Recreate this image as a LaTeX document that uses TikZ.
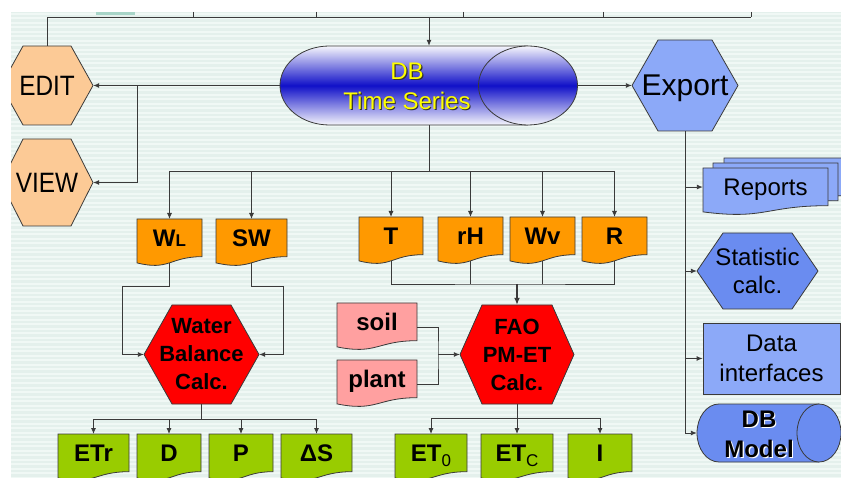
\documentclass[tikz,border=0pt]{standalone}
\usepackage{fontspec}
\setmainfont{Liberation Sans}
\usetikzlibrary{arrows.meta,calc}
\definecolor{bgc}{HTML}{E4F0EC}
\definecolor{stripec}{HTML}{F0F8F5}
\definecolor{linec}{HTML}{3A3A3A}
\definecolor{peach}{HTML}{FCCA96}
\definecolor{lblue}{HTML}{8CA9F8}
\definecolor{mblue}{HTML}{6A8CF0}
\definecolor{orng}{HTML}{FF9900}
\definecolor{pinkc}{HTML}{FFA0A0}
\definecolor{grn}{HTML}{99CC00}
\definecolor{dbblue}{HTML}{1010C8}
\definecolor{dbwhite}{HTML}{F6F6FC}
\definecolor{topteal}{HTML}{A8D5C8}
\definecolor{yel}{HTML}{FFFF00}
\tikzset{
  outl/.style={draw=linec, line width=0.8pt},
  conn/.style={draw=linec, line width=0.9pt},
  arr/.style={conn, -{Latex[length=6pt,width=5pt]}},
  lbl/.style={inner sep=0pt, align=center, text=black},
  doclbl/.style={lbl, font=\bfseries\fontsize{24}{28}\selectfont, text height=17pt, text depth=0pt},
}
% hexagon: name, fill, cx, cy, halfw, halfh, inset, font, text
\newcommand{\hexa}[9]{%
  \draw[outl,fill=#2] ({#3-#5},#4) -- ({#3-#5+#7},{#4-#6}) -- ({#3+#5-#7},{#4-#6}) -- ({#3+#5},#4) -- ({#3+#5-#7},{#4+#6}) -- ({#3-#5+#7},{#4+#6}) -- cycle;
  \node[lbl, font=#8, minimum width={2*#5pt}, minimum height={2*#6pt}] (#1) at (#3,#4) {#9};
}
% document outline: fill, x1, y1, x2, h
\newcommand{\docpath}[5]{%
  \draw[outl,fill=#1] (#2,#3) -- (#4,#3) -- (#4,{#3+0.802*#5}) .. controls ({(#2+#4)/2},{#3+0.802*#5}) and ({(#2+#4)/2},{#3+1.107*#5}) .. (#2,{#3+0.934*#5}) -- cycle;
}
% document node: name, fill, x1, y1, x2, h, text
\newcommand{\docu}[7]{%
  \docpath{#2}{#3}{#4}{#5}{#6}
  \node[doclbl, minimum width={(#5-#3)*1pt}, minimum height={0.802*#6*1pt}, anchor=north] (#1) at ({(#3+#5)/2},#4) {#7};
  \coordinate (#1-b) at ({(#3+#5)/2},{#4+0.933*#6});
}
\begin{document}
\begin{tikzpicture}[x=1pt,y=-1pt]
\useasboundingbox (0,0) rectangle (841,478);
\fill[white] (0,0) rectangle (841,478);
\begin{scope}
\clip (11,12) rectangle (841,478);
\fill[bgc] (11,12) rectangle (841,478);
\foreach \yy in {14,18.5,...,478} \draw[stripec,line width=2pt] (11,\yy) -- (841,\yy);
\fill[topteal] (96,12) rectangle (135,15);

% ---- DB Time Series cylinder
\shade[top color=dbwhite, bottom color=dbwhite, middle color=dbblue]
  (329.5,46) -- (528,46) -- (528,125) -- (329.5,125)
  arc[start angle=270,end angle=90,x radius=49.5pt,y radius=39.5pt] -- cycle;
\draw[outl] (528,46) -- (329.5,46) arc[start angle=90,end angle=270,x radius=49.5pt,y radius=39.5pt] -- (528,125);
\shade[top color=dbwhite, bottom color=dbwhite, middle color=dbblue] (528,85.5) ellipse[x radius=49.5pt,y radius=39.5pt];
\draw[outl] (528,85.5) ellipse[x radius=49.5pt,y radius=39.5pt];
\node[inner sep=0pt, minimum width=298pt, minimum height=79pt] (dbts) at (429,85.5) {};
\node[lbl, text=black!80, font=\fontsize{24}{30}\selectfont] (dbtsshadow) at (408.2,87.2) {DB\\Time Series};
\node[lbl, text=yel, font=\fontsize{24}{30}\selectfont] (dbtstext) at (407,86) {DB\\Time Series};

% ---- left hexagons and Export
\hexa{edit}{peach}{47}{85.5}{46}{39.5}{22}{\fontsize{28}{30}\selectfont}{\scalebox{0.87}[1]{EDIT}}
\hexa{view}{peach}{47}{182.5}{46}{43.5}{22}{\fontsize{28}{30}\selectfont}{\scalebox{0.87}[1]{VIEW}}
\hexa{export}{lblue}{685}{85.5}{53}{45.5}{26}{\fontsize{30}{32}\selectfont}{\raisebox{0pt}[\height][0pt]{Export}}

% ---- top connections
\coordinate (topL) at (47,17);
\coordinate (topR) at (751,17);
\coordinate (topJ) at (429,17);
\draw[conn] (edit.north) -- (topL) -- (topR);
\foreach \xx in {193,316,463,603,751} \draw[conn] (\xx,12) -- (\xx,17);
\draw[arr] (topJ) -- (dbts.north);

% ---- DB to EDIT / VIEW / Export
\coordinate (vj) at (137,85.5);
\draw[arr] (dbts.west) -- (edit.east);
\draw[arr] (vj) |- (view.east);
\draw[arr] (dbts.east) -- (export.west);

% ---- orange documents
\docu{wl}{orng}{137}{219}{202}{47}{W{\fontsize{17}{17}\selectfont L}}
\docu{sw}{orng}{216}{219}{287}{47}{SW}
\docu{t}{orng}{359}{217}{423}{47}{T}
\docu{rh}{orng}{438}{217}{503}{47}{rH}
\docu{wv}{orng}{510}{217}{575}{47}{Wv}
\docu{r}{orng}{582}{217}{647}{47}{R}

\coordinate (bus) at (429,171);
\draw[conn] (dbts.south) -- (bus);
\draw[conn] (wl.north |- bus) -- (r.north |- bus);
\foreach \n in {wl,sw,t,rh,wv,r} \draw[arr] (\n.north |- bus) -- (\n.north);

% ---- Water balance
\hexa{wb}{red}{201.5}{354.5}{57.5}{49.5}{28}{\bfseries\fontsize{22}{28}\selectfont}{Water\\Balance\\Calc.}
\coordinate (wlc) at (122,286);
\coordinate (swc) at (283,286);
\draw[arr] (wl-b) |- (wlc) |- (wb.west);
\draw[arr] (sw-b) |- (swc) |- (wb.east);

% ---- FAO
\hexa{fao}{red}{517}{354.5}{57}{49.5}{22}{\bfseries\fontsize{22}{28}\selectfont}{FAO\\PM-ET\\Calc.}
\coordinate (mbus) at (517,284);
\draw[conn] (t-b) |- (mbus) -| (r-b);
\draw[conn] (rh-b) -- (rh-b |- mbus);
\draw[conn] (wv-b) -- (wv-b |- mbus);
\draw[conn, line width=1.4pt, -{Latex[length=7pt,width=6pt]}] (mbus) -- (fao.north);

\docu{soil}{pinkc}{337}{303}{417}{47}{soil}
\docu{plant}{pinkc}{337}{360}{417}{47}{plant}
\coordinate (spj) at (438,354.5);
\draw[conn] ([yshift=-5pt]soil.east) -| (spj) |- ([yshift=-5pt]plant.east);
\draw[arr] (spj) -- (fao.west);

% ---- green outputs
\docu{etr}{grn}{58}{434}{129}{47}{ETr}
\docu{d}{grn}{137}{434}{201}{47}{D}
\docu{p}{grn}{209}{434}{273}{47}{P}
\docu{ds}{grn}{281}{434}{352}{47}{ΔS}
\coordinate (wbo) at (201.5,419);
\draw[conn] (wb.south) -- (wbo);
\draw[conn] (etr.north |- wbo) -- (ds.north |- wbo);
\foreach \n in {etr,d,p,ds} \draw[arr] (\n.north |- wbo) -- (\n.north);

\docu{et0}{grn}{395}{434}{467}{47}{ET\raisebox{-5pt}{\mdseries\fontsize{17}{17}\selectfont 0}}
\docu{etc}{grn}{481}{434}{553}{47}{ET\raisebox{-5pt}{\mdseries\fontsize{17}{17}\selectfont C}}
\docu{irr}{grn}{568}{434}{632}{47}{I}
\coordinate (faoo) at (517,418);
\draw[conn] (fao.south) -- (faoo);
\draw[conn] (et0.north |- faoo) -- (irr.north |- faoo);
\foreach \n in {et0,etc,irr} \draw[arr] (\n.north |- faoo) -- (\n.north);

% ---- right column
\docpath{lblue}{724}{158}{849}{47}
\docpath{lblue}{713}{163}{838}{47}
\docu{reports}{lblue}{703}{168}{828}{47}{\mdseries Reports}
\hexa{stat}{mblue}{757.5}{271}{60.5}{38}{26}{\fontsize{24}{28}\selectfont}{Statistic\\calc.}
\node[outl, fill=lblue, lbl, font=\fontsize{24}{30}\selectfont, minimum width=137pt, minimum height=71pt] (data) at (771.5,358.5) {Data\\interfaces};

\fill[mblue] (719,404) -- (819,404) -- (819,462) -- (719,462)
  arc[start angle=270,end angle=90,x radius=22pt,y radius=29pt] -- cycle;
\draw[outl] (819,404) -- (719,404) arc[start angle=90,end angle=270,x radius=22pt,y radius=29pt] -- (819,462);
\draw[outl, fill=mblue] (819,433) ellipse[x radius=22pt,y radius=29pt];
\node[inner sep=0pt, minimum width=144pt, minimum height=58pt] (dbm) at (769,433) {};
\node[lbl, text=white, font=\bfseries\fontsize{24}{30}\selectfont] (dbmshadow) at (760.2,435.2) {DB\\Model};
\node[lbl, font=\bfseries\fontsize{24}{30}\selectfont] (dbmtext) at (759,434) {DB\\Model};

\draw[arr] (export.south) |- (dbm.west);
\draw[arr] (export.south |- reports.west) -- (reports.west);
\draw[arr] (export.south |- stat.west) -- (stat.west);
\draw[arr] (export.south |- data.west) -- (data.west);
\end{scope}
\end{tikzpicture}
\end{document}
